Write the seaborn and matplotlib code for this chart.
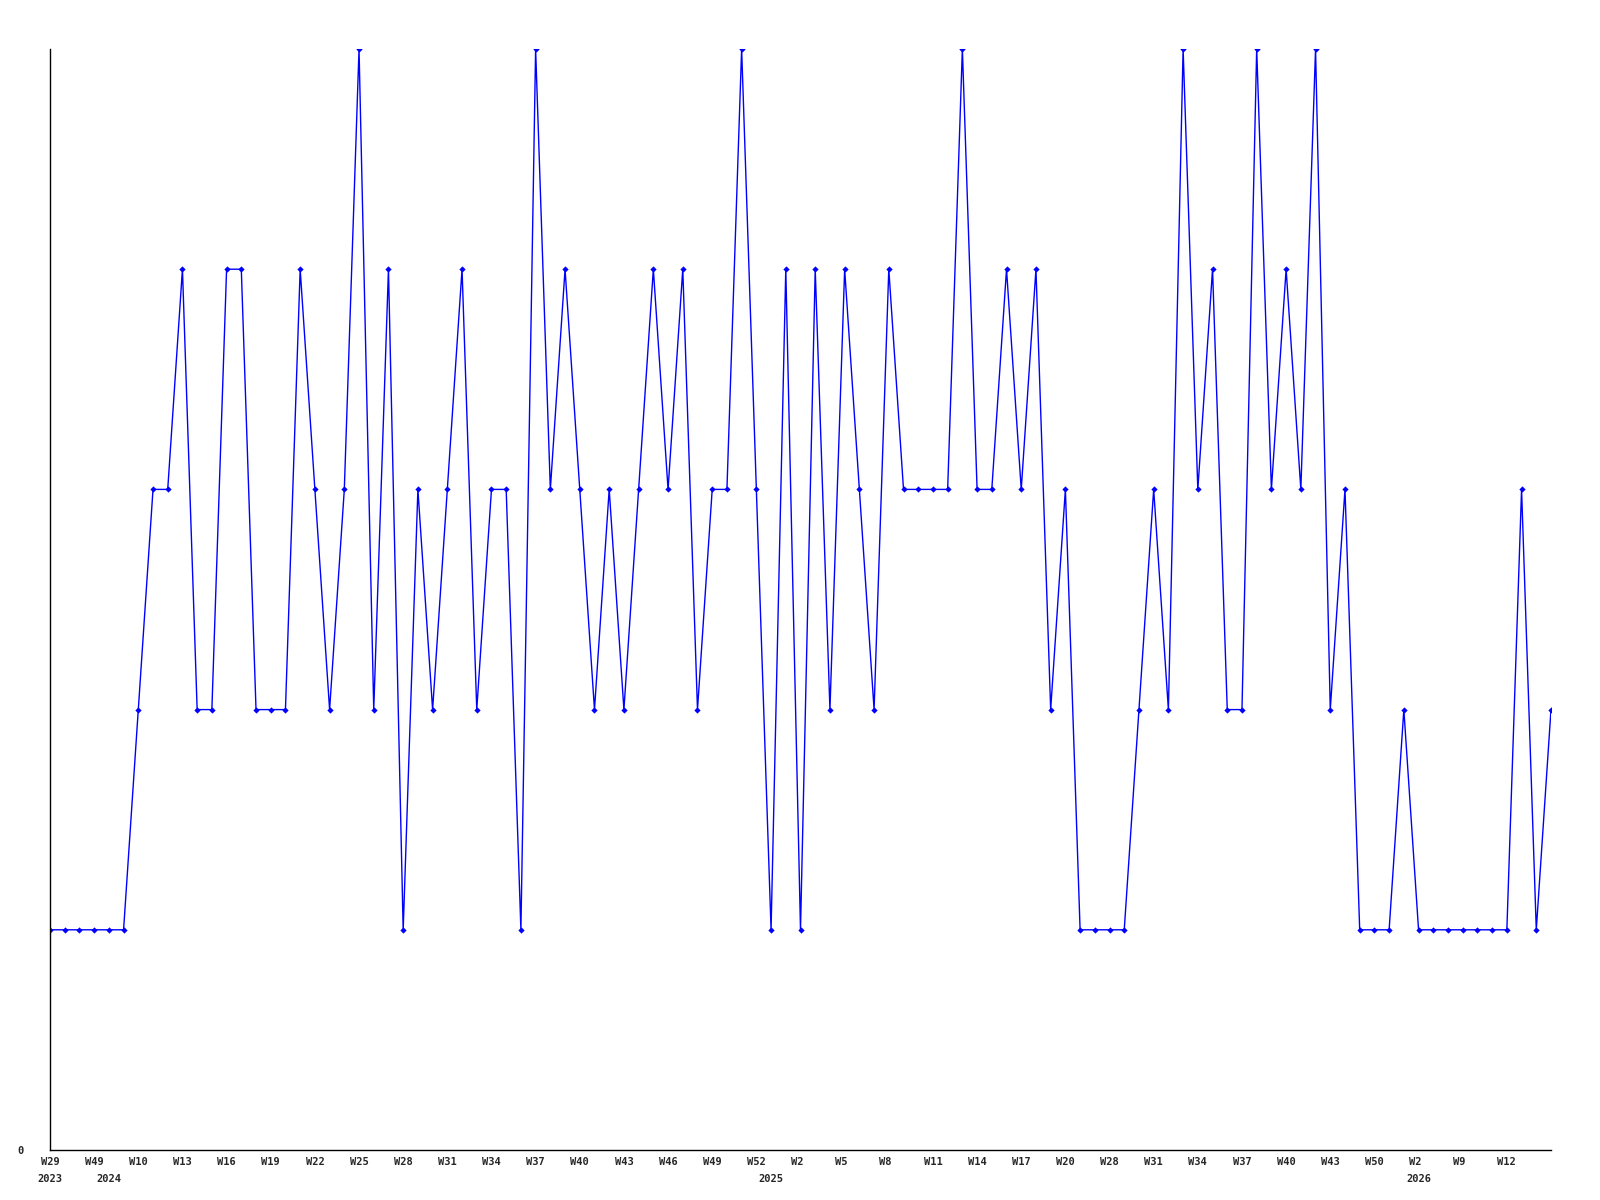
import numpy as np
import pandas as pd
import matplotlib
matplotlib.use("Agg")
import matplotlib.pyplot as plt
import seaborn as sns

# weekly counts, one point per week in the series
counts = [1, 1, 1, 1, 1, 1, 2, 3, 3, 4,
          2, 2, 4, 4, 2, 2, 2, 4, 3, 2,
          3, 5, 2, 4, 1, 3, 2, 3, 4, 2,
          3, 3, 1, 5, 3, 4, 3, 2, 3, 2,
          3, 4, 3, 4, 2, 3, 3, 5, 3, 1,
          4, 1, 4, 2, 4, 3, 2, 4, 3, 3,
          3, 3, 5, 3, 3, 4, 3, 4, 2, 3,
          1, 1, 1, 1, 2, 3, 2, 5, 3, 4,
          2, 2, 5, 3, 4, 3, 5, 2, 3, 1,
          1, 1, 2, 1, 1, 1, 1, 1, 1, 1,
          3, 1, 2]

# a week label on every third point
week_labels = ["W29", "W49", "W10", "W13", "W16", "W19", "W22", "W25", "W28",
               "W31", "W34", "W37", "W40", "W43", "W46", "W49", "W52", "W2",
               "W5", "W8", "W11", "W14", "W17", "W20", "W28", "W31", "W34",
               "W37", "W40", "W43", "W50", "W2", "W9", "W12"]
label_step = 3

years = ["2023", "2024", "2025", "2026"]
year_start_idx = [0, 4, 49, 93]

df = pd.DataFrame({"idx": np.arange(len(counts)), "count": counts})

sns.set_style("white")
plt.rcParams["font.family"] = ["DejaVu Sans Mono", "DejaVu Sans"]

fig = plt.figure(figsize=(16, 12), dpi=100)
ax = fig.add_axes([50 / 1600, 1 - 1150 / 1200, 1501 / 1600, 1101 / 1200])

sns.lineplot(data=df, x="idx", y="count", ax=ax, color="#0000ff", linewidth=1.0,
             marker="D", markersize=3.2, markeredgewidth=0, markerfacecolor="#0000ff")

ax.set_xlim(0, len(counts) - 1)
ax.set_ylim(0, 5)

tick_pos = np.arange(len(week_labels)) * label_step
ax.xaxis.remove_overlapping_locs = False
ax.set_xticks(tick_pos, labels=[w.ljust(3) for w in week_labels])
ax.set_xticks(year_start_idx, labels=years, minor=True)
ax.set_yticks([0], labels=["0"])

ax.tick_params(axis="x", which="major", length=0, pad=5, labelsize=7.5)
ax.tick_params(axis="x", which="minor", length=0, pad=17, labelsize=7.5)
ax.tick_params(axis="y", length=0, pad=19, labelsize=7.5)
for lab in ax.get_xticklabels(which="both") + ax.get_yticklabels():
    lab.set_fontweight("bold")

ax.set_xlabel("")
ax.set_ylabel("")
sns.despine(ax=ax)
for side in ["left", "bottom"]:
    ax.spines[side].set_color("black")
    ax.spines[side].set_linewidth(1.0)
ax.grid(False)

fig.savefig("out.png", dpi=100)
